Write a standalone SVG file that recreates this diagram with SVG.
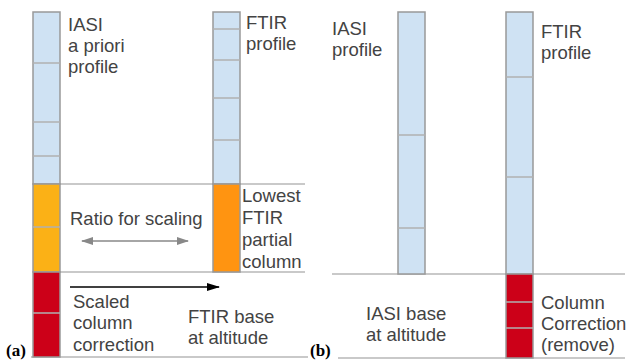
<svg xmlns="http://www.w3.org/2000/svg" width="630" height="361" viewBox="0 0 630 361">
<defs>
<style>
.t{font-family:"Liberation Sans",Arial,sans-serif;font-size:18.5px;fill:#434343}
.lbl{font-family:"Liberation Serif","Times New Roman",serif;font-size:17px;font-weight:bold;fill:#000}
.blue{fill:#cfe2f3;stroke:#999;stroke-width:1.5}
.org1{fill:#fbb116;stroke:#999;stroke-width:1.5}
.org2{fill:#ff9411;stroke:#999;stroke-width:1.5}
.red{fill:#cc0018;stroke:#999;stroke-width:1.5}
.div{stroke:#b0b0b0;stroke-width:1.5;fill:none}
.hl{stroke:#b7b7b7;stroke-width:1.5;fill:none}
</style>
<marker id="ag" viewBox="0 0 12 8" refX="11" refY="4" markerWidth="12" markerHeight="8" orient="auto-start-reverse" markerUnits="userSpaceOnUse"><path d="M0,0 L12,4 L0,8 z" fill="#888"/></marker>
<marker id="ab" viewBox="0 0 13 8" refX="12" refY="4" markerWidth="13" markerHeight="8" orient="auto" markerUnits="userSpaceOnUse"><path d="M0,0 L13,4 L0,8 z" fill="#000"/></marker>
</defs>
<rect width="630" height="361" fill="#fff"/>

<g id="guides">
<line class="hl" x1="60" y1="184" x2="305" y2="184"/>
<line class="hl" x1="60" y1="272" x2="305" y2="272"/>
<line class="hl" x1="31" y1="357" x2="308" y2="357"/>
<line class="hl" x1="332" y1="274" x2="625" y2="274"/>
<line class="hl" x1="338" y1="358" x2="625" y2="358"/>
</g>

<g id="a-iasi-column">
<rect class="blue" x="33" y="12" width="27" height="172"/>
<line class="div" x1="33" y1="63" x2="60" y2="63"/>
<line class="div" x1="33" y1="122" x2="60" y2="122"/>
<line class="div" x1="33" y1="156" x2="60" y2="156"/>
<rect class="org1" x="33" y="184" width="27" height="88"/>
<line class="div" x1="33" y1="227" x2="60" y2="227"/>
<rect class="red" x="33" y="272" width="27" height="85"/>
<line class="div" x1="33" y1="313" x2="60" y2="313"/>
</g>

<g id="a-ftir-column">
<rect class="blue" x="213" y="12" width="27" height="172"/>
<line class="div" x1="213" y1="29" x2="240" y2="29"/>
<line class="div" x1="213" y1="60" x2="240" y2="60"/>
<line class="div" x1="213" y1="98" x2="240" y2="98"/>
<line class="div" x1="213" y1="140" x2="240" y2="140"/>
<rect class="org2" x="213" y="184" width="27" height="88"/>
</g>

<g id="b-iasi-column">
<rect class="blue" x="398" y="12" width="27" height="262"/>
<line class="div" x1="398" y1="135" x2="425" y2="135"/>
<line class="div" x1="398" y1="228" x2="425" y2="228"/>
</g>

<g id="b-ftir-column">
<rect class="blue" x="506" y="12" width="27" height="262"/>
<line class="div" x1="506" y1="77" x2="533" y2="77"/>
<line class="div" x1="506" y1="177" x2="533" y2="177"/>
<rect class="red" x="506" y="274" width="27" height="84"/>
<line class="div" x1="506" y1="302" x2="533" y2="302"/>
<line class="div" x1="506" y1="328" x2="533" y2="328"/>
</g>

<g id="connectors">
<line x1="82" y1="241" x2="188" y2="241" stroke="#888" stroke-width="1.5" marker-start="url(#ag)" marker-end="url(#ag)"/>
<line x1="70" y1="287" x2="219" y2="287" stroke="#000" stroke-width="1.3" marker-end="url(#ab)"/>
</g>

<g id="labels">
<text class="t" x="68" y="30.5">IASI</text>
<text class="t" x="68" y="51.5">a priori</text>
<text class="t" x="68" y="72.5">profile</text>
<text class="t" x="246" y="28.5">FTIR</text>
<text class="t" x="246" y="49.5">profile</text>
<text class="t" x="70" y="225">Ratio for scaling</text>
<text class="t" x="242" y="201.5">Lowest</text>
<text class="t" x="242" y="223.5">FTIR</text>
<text class="t" x="242" y="245.5">partial</text>
<text class="t" x="242" y="267.5">column</text>
<text class="t" x="73" y="307.5">Scaled</text>
<text class="t" x="73" y="329">column</text>
<text class="t" x="73" y="350.5">correction</text>
<text class="t" x="188" y="322.5">FTIR base</text>
<text class="t" x="188" y="344">at altitude</text>
<text class="t" x="332" y="34.5">IASI</text>
<text class="t" x="332" y="56">profile</text>
<text class="t" x="541" y="37.5">FTIR</text>
<text class="t" x="541" y="59">profile</text>
<text class="t" x="366" y="319.5">IASI base</text>
<text class="t" x="366" y="341">at altitude</text>
<text class="t" x="541" y="308.5">Column</text>
<text class="t" x="541" y="330">Correction</text>
<text class="t" x="541" y="351">(remove)</text>
<text class="lbl" x="6" y="356">(a)</text>
<text class="lbl" x="310" y="356">(b)</text>
</g>
</svg>
